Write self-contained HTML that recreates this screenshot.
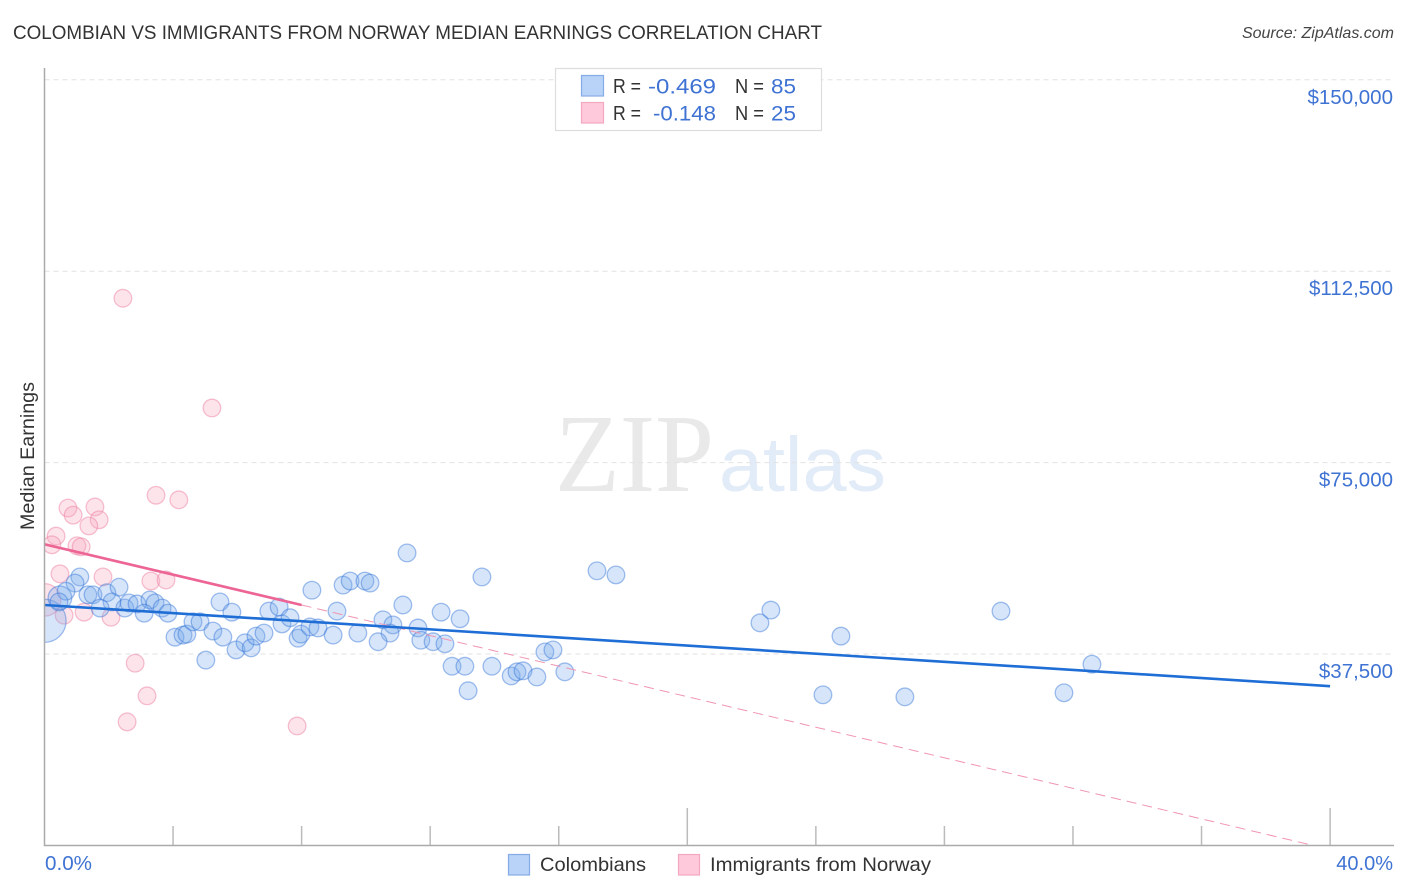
<!DOCTYPE html>
<html lang="en">
<head>
<meta charset="utf-8">
<title>Colombian vs Immigrants from Norway Median Earnings Correlation Chart</title>
<style>
html,body{margin:0;padding:0;background:#fff;width:1406px;height:892px;overflow:hidden}
svg{display:block;font-family:"Liberation Sans",sans-serif}
</style>
</head>
<body>
<svg id="chart" width="1406" height="892" viewBox="0 0 1406 892" xmlns="http://www.w3.org/2000/svg">
  <defs>
    <clipPath id="plot-clip"><rect x="44.5" y="60" width="1350" height="785"/></clipPath>
  </defs>
  <rect width="1406" height="892" fill="#fff"/>
  <text x="13" y="39" font-size="19" fill="#333" textLength="809" lengthAdjust="spacingAndGlyphs">COLOMBIAN VS IMMIGRANTS FROM NORWAY MEDIAN EARNINGS CORRELATION CHART</text>
  <text x="1394" y="38" font-size="16" font-style="italic" fill="#444" text-anchor="end">Source: ZipAtlas.com</text>

  <g>
    <text x="555" y="491" font-family="'Liberation Serif',serif" font-size="111" fill="#e9e9e9" textLength="159" lengthAdjust="spacingAndGlyphs">ZIP</text>
    <text x="719" y="491" font-size="77" fill="#e2ebf8" textLength="167" lengthAdjust="spacingAndGlyphs">atlas</text>
  </g>

  <g id="grid"></g>
  <g id="ylabels"></g>
  <g id="marks-pink" clip-path="url(#plot-clip)"></g>
  <g id="marks-blue" clip-path="url(#plot-clip)"></g>
  <g id="trends" clip-path="url(#plot-clip)"></g>

  <g id="axes">
    <line x1="44.5" y1="68" x2="44.5" y2="846" stroke="#aaa" stroke-width="1.5"/>
    <line x1="44" y1="845.5" x2="1394" y2="845.5" stroke="#aaa" stroke-width="1.5"/>
  </g>
  <g id="xticks"></g>

  <text transform="translate(34,456) rotate(-90)" font-size="19" fill="#333" text-anchor="middle" textLength="148" lengthAdjust="spacingAndGlyphs">Median Earnings</text>
  <text x="45" y="870" font-size="20" fill="#3f73d3" textLength="47" lengthAdjust="spacingAndGlyphs">0.0%</text>
  <text x="1393" y="870" font-size="20" fill="#3f73d3" text-anchor="end">40.0%</text>

  <g>
    <rect x="555.5" y="68.5" width="266" height="62" fill="#fff" stroke="#ddd" stroke-width="1.2"/>
    <rect x="581.5" y="75.5" width="22" height="20.5" fill="#b8d3f7" stroke="#85ace6" stroke-width="1.2"/>
    <rect x="581.5" y="102.5" width="22" height="20.5" fill="#fec9da" stroke="#f4a8c0" stroke-width="1.2"/>
    <text x="613" y="93" font-size="20" fill="#333" textLength="28" lengthAdjust="spacingAndGlyphs">R =</text>
    <text x="648" y="93.5" font-size="21.5" fill="#3f73d3" textLength="68" lengthAdjust="spacingAndGlyphs">-0.469</text>
    <text x="735" y="93" font-size="20" fill="#333" textLength="29" lengthAdjust="spacingAndGlyphs">N =</text>
    <text x="771" y="93.5" font-size="21.5" fill="#3f73d3" textLength="25" lengthAdjust="spacingAndGlyphs">85</text>
    <text x="613" y="120" font-size="20" fill="#333" textLength="28" lengthAdjust="spacingAndGlyphs">R =</text>
    <text x="653" y="120.5" font-size="21.5" fill="#3f73d3" textLength="63" lengthAdjust="spacingAndGlyphs">-0.148</text>
    <text x="735" y="120" font-size="20" fill="#333" textLength="29" lengthAdjust="spacingAndGlyphs">N =</text>
    <text x="771" y="120.5" font-size="21.5" fill="#3f73d3" textLength="25" lengthAdjust="spacingAndGlyphs">25</text>
  </g>

  <g>
    <rect x="508.5" y="854.5" width="21" height="20.5" fill="#b8d3f7" stroke="#85ace6" stroke-width="1.2"/>
    <text x="540" y="871" font-size="19.5" fill="#333" textLength="106" lengthAdjust="spacingAndGlyphs">Colombians</text>
    <rect x="678.5" y="854.5" width="21" height="20.5" fill="#fec9da" stroke="#f4a8c0" stroke-width="1.2"/>
    <text x="710" y="871" font-size="19.5" fill="#333" textLength="221" lengthAdjust="spacingAndGlyphs">Immigrants from Norway</text>
  </g>
</svg>
<script>
const yTickValues = [150000, 112500, 75000, 37500];
const yTickLabels = ["$150,000", "$112,500", "$75,000", "$37,500"];
const xTickValues = [0, 4, 8, 12, 16, 20, 24, 28, 32, 36, 40];
const xMajorTicks = [20, 40];

const colombianPct = [0,0.48,1.10,0.95,0.67,0.45,1.35,1.51,1.94,2.32,2.10,1.73,2.50,2.63,2.88,3.28,3.44,3.66,3.84,3.10,4.06,4.31,4.43,4.62,4.84,5.02,5.24,5.55,5.46,5.83,5.96,6.24,6.43,6.58,6.83,6.98,7.30,7.39,7.64,7.89,7.98,8.26,8.51,8.98,8.32,9.10,9.29,9.51,9.97,10.13,9.75,11.28,11.15,10.53,10.84,10.75,10.38,11.62,11.71,12.09,12.46,12.34,12.93,13.61,12.68,13.08,13.92,13.18,14.52,14.70,14.89,15.32,15.57,15.82,16.19,17.19,17.78,22.26,22.60,24.78,24.22,26.77,29.76,31.72,32.59];
const colombianEarnings = [44000,48500,52600,51400,49800,47700,49100,49100,49500,50600,47700,46500,46500,47500,47300,48100,47500,46500,45500,45500,40800,41200,41400,43800,43800,36300,42000,40800,47700,45700,38300,39700,38700,41000,41600,45900,46700,43400,44600,40600,41400,42800,42600,41200,50000,45900,51000,51800,51800,51400,41600,57300,47100,44200,43200,41600,39900,42600,40200,39900,39500,45700,44400,52600,35100,35100,35100,30300,33200,34000,34200,33000,37900,38300,34000,53800,53000,43600,46100,41000,29500,29100,45900,29900,35500];
const colombianWeight = [6,1.8];

const norwayPct = [0,2.44,5.21,3.47,4.18,0.73,0.89,1.57,1.70,1.38,0.36,0.23,1.01,1.14,0.48,1.82,3.31,3.78,2.82,3.19,2.57,7.86,0.61,1.23,2.07];
const norwayEarnings = [48100,107200,85700,68600,67700,66100,64700,66300,63800,62600,60600,58900,58700,58500,53200,52600,51800,52000,35700,29300,24200,23400,45100,45700,44700];
const norwayWeight = [3.4];

const colombianTrendPct = [0, 40];
const colombianTrendEarnings = [47100, 31200];
const norwayTrendPct = [0, 8];
const norwayTrendEarnings = [59000, 47100];
const norwayExtensionPct = [8, 39.4];
const norwayExtensionEarnings = [47100, 100];

const NS = "http://www.w3.org/2000/svg";
function xScale(p){ return 44.5 + p * (1285.6 / 40); }
function yScale(v){ return 654 - (v - 37500) * (574.2 / 112500); }
function radius(w){ return 8.8 * Math.sqrt(w === undefined ? 1 : w); }

const grid = document.getElementById("grid");
const ylabels = document.getElementById("ylabels");
yTickValues.forEach(function(v, i){
  const l = document.createElementNS(NS, "line");
  
  
  l.setAttribute("x1", 44.5);
  l.setAttribute("x2", 1394);
  l.setAttribute("y1", yScale(v));
  l.setAttribute("y2", yScale(v));
  l.setAttribute("stroke", "#e2e2e2");
  l.setAttribute("stroke-width", "1");
  l.setAttribute("stroke-dasharray", "5 4");
  grid.appendChild(l);
  const t = document.createElementNS(NS, "text");
  
  
  t.setAttribute("x", 1393);
  t.setAttribute("y", yScale(v) + 24);
  t.setAttribute("font-size", "20.5");
  t.setAttribute("fill", "#3f73d3");
  t.setAttribute("text-anchor", "end");
  t.textContent = yTickLabels[i];
  ylabels.appendChild(t);
});

const xticks = document.getElementById("xticks");
xTickValues.forEach(function(p){
  if (p === 0) return;
  const l = document.createElementNS(NS, "line");
  
  
  l.setAttribute("x1", xScale(p));
  l.setAttribute("x2", xScale(p));
  l.setAttribute("y1", xMajorTicks.indexOf(p) >= 0 ? 808 : 826);
  l.setAttribute("y2", 845);
  l.setAttribute("stroke", "#bbb");
  l.setAttribute("stroke-width", "1.5");
  xticks.appendChild(l);
});

const blueGroup = document.getElementById("marks-blue");
colombianPct.forEach(function(p, i){
  const c = document.createElementNS(NS, "circle");
  
  
  c.setAttribute("cx", xScale(p));
  c.setAttribute("cy", yScale(colombianEarnings[i]));
  c.setAttribute("r", radius(colombianWeight[i]));
  c.setAttribute("fill", "rgba(120,170,235,0.3)");
  c.setAttribute("stroke", "rgba(50,115,215,0.45)");
  c.setAttribute("stroke-width", "1.3");
  blueGroup.appendChild(c);
});

const pinkGroup = document.getElementById("marks-pink");
norwayPct.forEach(function(p, i){
  const c = document.createElementNS(NS, "circle");
  
  
  c.setAttribute("cx", xScale(p));
  c.setAttribute("cy", yScale(norwayEarnings[i]));
  c.setAttribute("r", radius(norwayWeight[i]));
  c.setAttribute("fill", "rgba(250,165,190,0.3)");
  c.setAttribute("stroke", "rgba(235,120,155,0.45)");
  c.setAttribute("stroke-width", "1.3");
  pinkGroup.appendChild(c);
});

const trends = document.getElementById("trends");
const ext = document.createElementNS(NS, "line");


ext.setAttribute("x1", xScale(norwayExtensionPct[0]));
ext.setAttribute("y1", yScale(norwayExtensionEarnings[0]));
ext.setAttribute("x2", xScale(norwayExtensionPct[1]));
ext.setAttribute("y2", yScale(norwayExtensionEarnings[1]));
ext.setAttribute("stroke", "#f095b2");
ext.setAttribute("stroke-width", "1");
ext.setAttribute("stroke-dasharray", "10 6");
trends.appendChild(ext);

const blueTrend = document.createElementNS(NS, "line");


blueTrend.setAttribute("x1", xScale(colombianTrendPct[0]));
blueTrend.setAttribute("y1", yScale(colombianTrendEarnings[0]));
blueTrend.setAttribute("x2", xScale(colombianTrendPct[1]));
blueTrend.setAttribute("y2", yScale(colombianTrendEarnings[1]));
blueTrend.setAttribute("stroke", "#1f6ed6");
blueTrend.setAttribute("stroke-width", "2.6");
trends.appendChild(blueTrend);

const pinkTrend = document.createElementNS(NS, "line");


pinkTrend.setAttribute("x1", xScale(norwayTrendPct[0]));
pinkTrend.setAttribute("y1", yScale(norwayTrendEarnings[0]));
pinkTrend.setAttribute("x2", xScale(norwayTrendPct[1]));
pinkTrend.setAttribute("y2", yScale(norwayTrendEarnings[1]));
pinkTrend.setAttribute("stroke", "#ec6595");
pinkTrend.setAttribute("stroke-width", "2.6");
trends.appendChild(pinkTrend);
</script>
</body>
</html>
